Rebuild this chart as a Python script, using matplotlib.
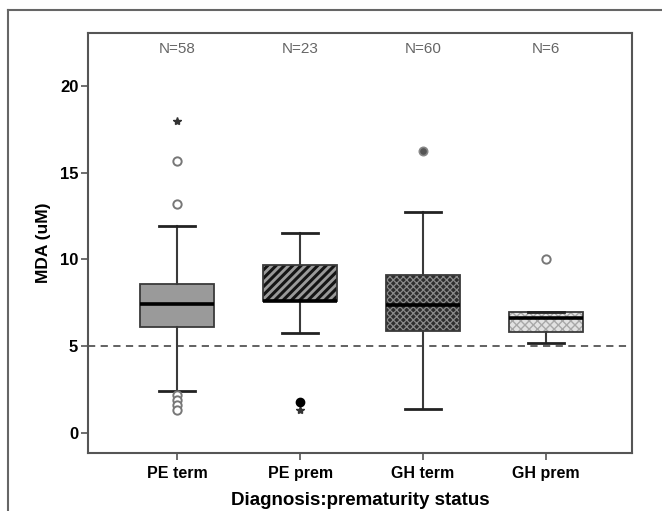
import matplotlib
matplotlib.use("Agg")
import matplotlib.pyplot as plt
from matplotlib.lines import Line2D

plt.rcParams['font.family'] = ['Liberation Sans', 'DejaVu Sans']

# data
groups = ["PE term", "PE prem", "GH term", "GH prem"]
n_counts = [58, 23, 60, 6]
whislo = [2.45, 5.78, 1.39, 5.16]
q1 = [6.09, 7.61, 5.86, 5.82]
med = [7.45, 7.63, 7.36, 6.63]
q3 = [8.60, 9.67, 9.11, 6.98]
whishi = [11.95, 11.54, 12.76, 6.98]

open_outliers = [[15.66, 13.2, 2.2, 1.9, 1.6, 1.35], [], [], [10.0]]
star_outliers = [[18.0], [1.33], [], []]
filled_outliers = [[], [1.79], [], []]
dotted_outliers = [[], [], [16.26], []]

reference_line = 5

box_faces = ["#9a9a9a", "#9a9a9a", "#2e2e2e", "#e2e2e2"]
hatch_patterns = ["", "////", "xxxxx", "xxxx"]
hatch_colors = ["#9a9a9a", "#151515", "#8a8a8a", "#a8a8a8"]
hatch_widths = [1.0, 2.2, 0.9, 1.0]

positions = list(range(1, len(groups) + 1))
stats = []
for i, g in enumerate(groups):
    stats.append(dict(label=g, whislo=whislo[i], q1=q1[i], med=med[i],
                      q3=q3[i], whishi=whishi[i], fliers=[]))

fig = plt.figure(figsize=(6.62, 5.11), dpi=100)
ax = fig.add_axes([88 / 662, 1 - 453 / 511, (632 - 88) / 662, (453 - 33) / 511])

# outer frame (top and left only visible)
frame_col = "#666666"
fig.add_artist(Line2D([8 / 662, 1.0], [1 - 10 / 511, 1 - 10 / 511], color=frame_col, lw=1.5))
fig.add_artist(Line2D([8 / 662, 8 / 662], [0, 1 - 10 / 511], color=frame_col, lw=1.5))

ax.axhline(reference_line, color="#555555", lw=1.3, ls=(0, (4, 3)), zorder=1)

# pass 1: hatched fills
fill = ax.bxp(stats, positions=positions, widths=0.6, patch_artist=True,
              showfliers=False, showcaps=False,
              whiskerprops=dict(lw=0), medianprops=dict(lw=0))
for patch, fc, h, hc, hw in zip(fill["boxes"], box_faces, hatch_patterns,
                                hatch_colors, hatch_widths):
    patch.set_facecolor(fc)
    patch.set_edgecolor(hc)
    patch.set_hatch(h)
    patch.set_linewidth(0)
    try:
        patch.set_hatch_linewidth(hw)
    except AttributeError:
        pass
    patch.set_zorder(2)

# pass 2: outlines, whiskers, caps, medians
ax.bxp(stats, positions=positions, widths=0.6, patch_artist=True,
       showfliers=False, capwidths=0.29,
       boxprops=dict(facecolor="none", edgecolor="#3a3a3a", lw=1.3),
       whiskerprops=dict(color="#3a3a3a", lw=1.5),
       capprops=dict(color="#222222", lw=2.0),
       medianprops=dict(color="black", lw=2.6))

for x, vals in zip(positions, open_outliers):
    ax.plot([x] * len(vals), vals, ls="none", marker="o", ms=6,
            mfc="white", mec="#777777", mew=1.4, zorder=4)
for x, vals in zip(positions, star_outliers):
    ax.plot([x] * len(vals), vals, ls="none", marker="*", ms=6,
            mfc="#333333", mec="#333333", zorder=4)
for x, vals in zip(positions, filled_outliers):
    ax.plot([x] * len(vals), vals, ls="none", marker="o", ms=6,
            mfc="black", mec="black", zorder=5)
for x, vals in zip(positions, dotted_outliers):
    ax.plot([x] * len(vals), vals, ls="none", marker="o", ms=6,
            mfc="#555555", mec="#888888", mew=1.2, zorder=4)

for x, n in zip(positions, n_counts):
    ax.text(x, 22.1, f"N={n}", ha="center", va="center",
            fontsize=11, color="#666666")

ax.set_xlim(0.275, 4.70)
ax.set_ylim(-1.15, 23.05)
ax.set_yticks([0, 5, 10, 15, 20])
ax.set_xticks(positions)
ax.set_xticklabels(groups)
for lab in ax.get_xticklabels():
    lab.set_fontweight("bold")
    lab.set_fontsize(11.5)
for lab in ax.get_yticklabels():
    lab.set_fontweight("bold")
    lab.set_fontsize(12)
ax.tick_params(axis="both", length=5, width=1.2, color="#555555", pad=2)
ax.tick_params(axis="x", pad=4)

for sp in ax.spines.values():
    sp.set_color("#555555")
    sp.set_linewidth(1.5)

ax.set_ylabel("MDA (uM)", fontsize=12.5, fontweight="bold", labelpad=6)
ax.set_xlabel("Diagnosis:prematurity status", fontsize=13.5, fontweight="bold")
ax.xaxis.set_label_coords(0.5, -0.092)

fig.savefig("out.png", dpi=100)
